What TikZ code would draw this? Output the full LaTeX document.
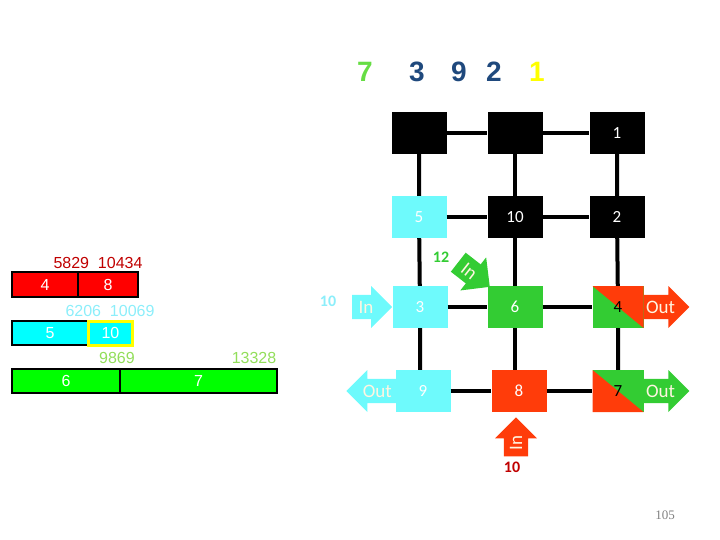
\documentclass[tikz,border=0pt]{standalone}
\usepackage{fontspec}
\setmainfont{Liberation Sans}
\newfontfamily\calibri{Carlito}
\newfontfamily\pagefont{Liberation Serif}
\usepackage{tikz}
\usetikzlibrary{
  shapes.arrows,
  positioning
}
\definecolor{MeshCyan}{RGB}{110, 250, 252}
\definecolor{MeshGreen}{RGB}{51, 204, 51}
\definecolor{MeshRed}{RGB}{255, 60, 10}
\definecolor{BarRed}{RGB}{255, 0, 0}
\definecolor{BarCyan}{RGB}{0, 255, 255}
\definecolor{BarGreen}{RGB}{0, 255, 0}
\definecolor{DarkRed}{RGB}{192, 0, 0}
\definecolor{PaleCyan}{RGB}{140, 238, 250}
\definecolor{PaleGreen}{RGB}{146, 222, 90}
\definecolor{NavyText}{RGB}{31, 73, 125}
\definecolor{LimeText}{RGB}{102, 221, 68}
\definecolor{SunYellow}{RGB}{255, 255, 0}
\definecolor{OutText}{RGB}{255, 245, 225}
\tikzset{
    router/.style={rectangle, minimum width=55pt, minimum height=42pt, inner sep=0pt,
        text=white, font=\calibri\fontsize{17}{20}\selectfont},
    splitred/.style={router, fill=MeshGreen, text=black, path picture={
        \fill[MeshRed] (path picture bounding box.north west) -- (path picture bounding box.north east)
            -- (path picture bounding box.south east) -- cycle;}},
    splitgreen/.style={router, fill=MeshGreen, text=black, path picture={
        \fill[MeshRed] (path picture bounding box.north west) -- (path picture bounding box.south west)
            -- (path picture bounding box.south east) -- cycle;}},
    link/.style={line width=4pt, black},
    bar/.style={rectangle, draw=black, line width=1.5pt, minimum height=25pt, inner sep=0pt,
        text=white, font=\fontsize{16}{18}\selectfont},
    port/.style={single arrow, minimum height=42pt, minimum width=42pt, single arrow head extend=8pt,
        inner xsep=2pt, inner ysep=4.5pt, text=OutText, font=\calibri\fontsize{19}{22}\selectfont},
    flow/.style={font=\calibri\bfseries\fontsize{16}{18}\selectfont},
    digit/.style={font=\bfseries\fontsize{28}{30}\selectfont},
    tag/.style={font=\fontsize{16}{18}\selectfont, inner sep=0pt}
}
\begin{document}
\begin{tikzpicture}[x=1pt, y=-1pt]
    \useasboundingbox (0,0) rectangle (720,540);

    % order of the digits on top
    \node[digit, text=LimeText] (top7) at (365,72) {7};
    \node[digit, text=NavyText] (top3) at (417,72) {3};
    \node[digit, text=NavyText] (top9) at (459,72) {9};
    \node[digit, text=NavyText] (top2) at (494,72) {2};
    \node[digit, text=SunYellow] (top1) at (537,72) {1};

    % mesh
    \node[router, fill=black] (a1) at (419,133) {};
    \node[router, fill=black] (a2) at (515,133) {};
    \node[router, fill=black] (a3) at (617,133) {1};
    \node[router, fill=MeshCyan] (b1) at (419,217) {5};
    \node[router, fill=black] (b2) at (515,217) {10};
    \node[router, fill=black] (b3) at (617,217) {2};
    \node[router, fill=MeshCyan] (c1) at (420,307) {3};
    \node[router, fill=MeshGreen] (c2) at (515,307) {6};
    \node[splitred, minimum width=51pt] (c3) at (618,307) {4};
    \node[router, fill=MeshCyan] (d1) at (423,391) {9};
    \node[router, fill=MeshRed] (d2) at (519,391) {8};
    \node[splitgreen, minimum width=51pt] (d3) at (618,391) {7};

    \draw[link] (a1) -- (a2) (a2) -- (a3);
    \draw[link] (b1) -- (b2) (b2) -- (b3);
    \draw[link] (c1) -- (c2) (c2) -- (c3);
    \draw[link] (d1) -- (d2) (d2) -- (d3);
    \draw[link] (a1) -- (b1) (b1) -- (c1) (c1.south) -- (c1.south |- d1.north);
    \draw[link] (a2) -- (b2) (b2) -- (c2) (c2.south) -- (c2.south |- d2.north);
    \draw[link] (a3) -- (b3) (b3) -- (c3) (c3) -- (d3);

    % ports
    \node[port, fill=MeshCyan, anchor=tip, minimum height=40pt] (inc) at (c1.west) {In};
    \node[port, fill=MeshCyan, shape border rotate=180, anchor=tip, minimum height=50pt] (outc) at (346,391) {Out};
    \node[port, fill=MeshRed, anchor=tail] (outr) at (c3.east) {Out};
    \node[port, fill=MeshGreen, anchor=tail] (outg) at (d3.east) {Out};
    \node[port, fill=MeshRed, rotate=90, anchor=tip, minimum height=39pt] (inr) at (516,417) {In};
    \node[port, fill=MeshGreen, rotate=-38, anchor=tip, minimum height=40pt] (ing) at (490,287) {In};

    \node[flow, text=PaleCyan] (inc-rate) at (328,301) {10};
    \node[flow, text=MeshGreen] (ing-rate) at (441,257) {12};
    \node[flow, text=DarkRed] (inr-rate) at (512,467) {10};

    % time lines
    \node[bar, fill=BarRed, minimum width=66pt] (r4) at (45,284.5) {4};
    \node[bar, fill=BarRed, minimum width=60pt] (r8) at (108,284.5) {8};
    \node[bar, fill=BarCyan, minimum width=76pt, minimum height=24pt] (c5) at (50,333) {5};
    \node[bar, fill=BarCyan, draw=SunYellow, line width=3pt, minimum width=44pt, minimum height=24pt] (c10) at (110.5,333) {10};
    \node[bar, fill=BarGreen, minimum width=108pt, minimum height=24pt] (g6) at (66,381) {6};
    \node[bar, fill=BarGreen, minimum width=157pt, minimum height=24pt] (g7) at (198.5,381) {7};

    \node[tag, text=DarkRed] (r-times) at (98,263) {5829\ \ 10434};
    \node[tag, text=PaleCyan] (c-times) at (110,311) {6206\ \ 10069};
    \node[tag, text=PaleGreen] (g-mid) at (117,358) {9869};
    \node[tag, text=PaleGreen] (g-end) at (254,358) {13328};

    \node[font=\pagefont\fontsize{13}{15}\selectfont, text=gray] (page) at (665,515) {105};
\end{tikzpicture}
\end{document}
